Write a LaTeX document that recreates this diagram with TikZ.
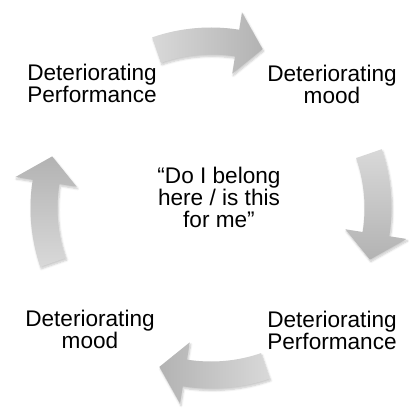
\documentclass[tikz,border=0pt]{standalone}
\usepackage{fontspec}
\setmainfont{Liberation Sans}
\usetikzlibrary{shadows.blur}

\begin{document}
\begin{tikzpicture}[x=1pt, y=1pt,
        label/.style = {align=center, inner sep=0pt, font=\fontsize{22.6}{22}\selectfont},
        arrowbody/.style = {top color=gray!30, bottom color=gray!60,
            blur shadow={shadow xshift=1pt, shadow yshift=-2pt, shadow opacity=22, shadow blur steps=6}}
        ]
        \useasboundingbox (0,0) rectangle (409,410);
        \coordinate (hub) at (211,202);

        % curved block arrows, clockwise round the hub
        \begin{scope}[shift={(hub)}]
        \foreach \a in {90,0,-90,180}
            \shade[arrowbody, shading angle=\a] (\a+19:153.5) arc[start angle=\a+19, end angle=\a-9, radius=153.5]
                -- (\a-9:136) -- (\a-18:167) -- (\a-9:198) -- (\a-9:180.5)
                arc[start angle=\a-9, end angle=\a+19, radius=180.5] -- cycle;
        \end{scope}

        \node[label] (perfTL) at (92,326.5) {Deteriorating\\Performance};
        \node[label] (moodTR) at (332,326) {Deteriorating\\mood};
        \node[label] (question) at (219,213) {“Do I belong\\here / is this\\for me”};
        \node[label] (perfBR) at (332,79.5) {Deteriorating\\Performance};
        \node[label] (moodBL) at (90,80.5) {Deteriorating\\mood};
    \end{tikzpicture}
\end{document}
